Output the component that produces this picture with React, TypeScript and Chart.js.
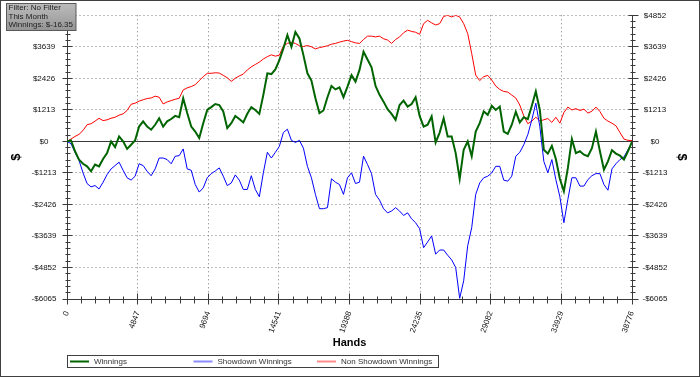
import React, { useEffect, useRef } from 'react';
import { Chart, registerables } from 'chart.js';

Chart.register(...registerables);

// ---- data -----------------------------------------------------------------
const TOTAL_HANDS = 38776;
const HAND_STEP = 275; // spacing of the sampled points (hands)
const X_TICK_STEP = 4847;
const Y_MIN = -6065;
const Y_MAX = 4852;
const Y_TICK_STEP = 1213;

const SERIES_LABELS = ['Winnings', 'Showdown Winnings', 'Non Showdown Winnings'];

const WINNINGS = [
  0, 40, -380, -700, -860, -960, -1150, -890, -960, -680,
  -450, 0, -220, 190, 0, -290, -130, 40, 570, 770,
  570, 450, 640, 890, 570, 770, 860, 980, 930, 1660,
  1090, 570, 380, 130, 700, 1210, 1320,
  1440, 1400, 1150, 510, 700, 980, 860, 730, 1060, 1320,
  1210, 1060, 1790, 2620, 2590, 2770, 3130, 3580, 4090, 3640,
  4210, 3960, 3320, 2620, 2340, 1660, 1090, 1190, 1700, 2130,
  2000, 2080, 1700, 2110, 2550,
  2300, 2750, 3450, 3150, 2850, 2130, 1790, 1530, 1240, 1060,
  830, 1400, 1570, 1340, 1440, 1700, 980, 570, 640, 960,
  -40, 340, 890, 190, 190, -450, -1440, -320, 0, -570,
  380, 700, 1150, 1020, 1370,
  1210, 1340, 380, 290, 640, 1140, 730, 930, 860, 1370,
  1920, 1210, -320, -470, -170, -680, -1440, -1920, -1020, 90,
  -450, -380, -510, -570, -260, 380, -380, -1090, -770, -340,
  -470, -550, -700, -380, -16,
];

const SHOWDOWN = [
  0, -90, -420, -730, -1210, -1620, -1750, -1700, -1830, -1570,
  -1280, -1060, -930, -800, -1110, -1400, -1490, -1340, -860, -930,
  -1150, -1320, -1060, -640, -640, -700, -860, -570, -550, -290,
  -1060, -1110, -1660, -1950, -1790, -1400, -1240,
  -1140, -1020, -1340, -1700, -1600, -1290, -1490, -1850, -1850, -1320,
  -1850, -2130, -1210, -420, -640, -420, -190, 340, 470, 40,
  -40, 40, -260, -960, -1400, -2040, -2590, -2590, -2550, -1440,
  -1570, -1660, -2040, -1400, -1210,
  -1620, -1570, -570, -890, -1240, -2040, -2260, -2590, -2750, -2680,
  -2550, -2680, -2850, -2750, -2980, -3130, -3360, -4090, -3870, -3640,
  -4340, -4180, -4180, -4380, -4560, -4850, -6040, -5360, -4020, -3320,
  -2040, -1600, -1400, -1340, -1210,
  -960, -960, -1490, -1530, -1340, -570, -420, -130, 260, 830,
  1470, 570, -770, -1210, -700, -1470, -2130, -3130, -2230, -1400,
  -1400, -1720, -1720, -1470, -1320, -1240, -1240, -1660, -1880, -1060,
  -860, -700, -600, -320, -50,
];

const NON_SHOWDOWN = [
  0, 90, 190, 270, 420, 640, 680, 780, 890, 800,
  830, 890, 930, 1010, 1060, 1190, 1430, 1470, 1550, 1600,
  1650, 1670, 1740, 1700, 1440, 1520, 1570, 1620, 1660, 1980,
  2060, 2110, 2180, 2340, 2490, 2620, 2620,
  2640, 2630, 2540, 2450, 2310, 2430, 2520, 2590, 2750, 2870,
  2960, 3050, 3170, 3260, 3330, 3280, 3320, 3670, 3770, 3810,
  3770, 3680, 3650, 3690, 3640, 3560, 3610, 3640, 3680, 3740,
  3770, 3820, 3860, 3890, 3840,
  3790, 3770, 3920, 4050, 4050, 4020, 4050, 3950, 3900, 3770,
  3920, 4020, 4180, 4280, 4230, 4200, 4120, 4530, 4660, 4560,
  4480, 4530, 4810, 4850, 4790, 4850, 4790, 4530, 4150, 3380,
  2550, 2340, 2490, 2540, 2360,
  2130, 2000, 1920, 1900, 1780, 1670, 1400, 980, 680, 780,
  930, 790, 830, 880, 730, 930, 700, 1110, 1320, 1210,
  1260, 1190, 1240, 1090, 1160, 1320, 1150, 890, 780, 700,
  600, 340, 90, 40, 34,
];

const INFO_LINES = ['Filter: No Filter', 'This Month', 'Winnings: $-16.35'];

// ---- styles ---------------------------------------------------------------
const FONT = '"Liberation Sans", Arial, sans-serif';
const LINE_COLORS = ['#006400', '#0000ff', '#ff0000'];
const LINE_WIDTHS = [2, 1, 1];
const LEGEND_COLORS = ['#006400', '#8c8cff', '#ff8c8c'];
const AXIS_COLOR = '#3a3a3a';
const GRID_COLOR = '#7a7a7a';

const hands = WINNINGS.map((_, i) => (i === WINNINGS.length - 1 ? TOTAL_HANDS : i * HAND_STEP));
const toPoints = (vals: number[]) => vals.map((v, i) => ({ x: hands[i], y: v }));

const fmtDollar = (v: number) => {
  const r = Math.round(v);
  return r < 0 ? `-$${-r}` : `$${r}`;
};

const snap = (v: number) => Math.floor(v) + 0.5;
const near = (a: number, b: number) => Math.abs(a - b) < 1e-6;

const decorPlugin = {
  id: 'decor',
  beforeDraw(chart: any) {
    const { ctx, width, height } = chart;
    ctx.save();
    ctx.fillStyle = '#ffffff';
    ctx.fillRect(0, 0, width, height);
    ctx.restore();
  },
  beforeDatasetsDraw(chart: any) {
    const { ctx, chartArea, scales } = chart;
    const xs = scales.x;
    const ys = scales.y;
    const L = snap(chartArea.left);
    const R = snap(chartArea.right);
    const B = snap(chartArea.bottom);
    const T = chartArea.top;
    ctx.save();
    ctx.lineWidth = 1;
    // dotted grid
    ctx.strokeStyle = GRID_COLOR;
    ctx.setLineDash([1, 3]);
    ctx.beginPath();
    ys.ticks.forEach((t: any) => {
      if (near(t.value, 0) || near(t.value, Y_MIN)) return;
      const py = snap(ys.getPixelForValue(t.value));
      ctx.moveTo(L, py);
      ctx.lineTo(R, py);
    });
    xs.ticks.forEach((t: any) => {
      if (near(t.value, 0) || near(t.value, TOTAL_HANDS)) return;
      const px = snap(xs.getPixelForValue(t.value));
      ctx.moveTo(px, T);
      ctx.lineTo(px, B);
    });
    ctx.stroke();
    ctx.setLineDash([]);
    // zero line + axes + tick marks
    ctx.strokeStyle = AXIS_COLOR;
    ctx.beginPath();
    const zy = snap(ys.getPixelForValue(0));
    ctx.moveTo(L, zy);
    ctx.lineTo(R, zy);
    ctx.moveTo(L, T);
    ctx.lineTo(L, B);
    ctx.moveTo(R, T);
    ctx.lineTo(R, B);
    ctx.moveTo(L, B);
    ctx.lineTo(R, B);
    const yv = ys.ticks.map((t: any) => t.value);
    for (let i = 0; i < yv.length; i++) {
      const py = snap(ys.getPixelForValue(yv[i]));
      ctx.moveTo(L - 5, py);
      ctx.lineTo(L + 5, py);
      ctx.moveTo(R - 4, py);
      ctx.lineTo(R + 6, py);
      if (i < yv.length - 1) {
        for (let k = 1; k < 5; k++) {
          const mp = snap(ys.getPixelForValue(yv[i] + ((yv[i + 1] - yv[i]) * k) / 5));
          ctx.moveTo(L - 2, mp);
          ctx.lineTo(L + 3, mp);
          ctx.moveTo(R - 2, mp);
          ctx.lineTo(R + 3, mp);
        }
      }
    }
    const xv = xs.ticks.map((t: any) => t.value);
    for (let i = 0; i < xv.length; i++) {
      const px = snap(xs.getPixelForValue(xv[i]));
      ctx.moveTo(px, B - 6);
      ctx.lineTo(px, B + 5);
      if (i < xv.length - 1) {
        for (let k = 1; k < 5; k++) {
          const mp = snap(xs.getPixelForValue(xv[i] + ((xv[i + 1] - xv[i]) * k) / 5));
          ctx.moveTo(mp, B - 3);
          ctx.lineTo(mp, B + 4);
        }
      }
    }
    ctx.stroke();
    ctx.restore();
  },
  afterDraw(chart: any) {
    const { ctx, width, height } = chart;
    ctx.save();
    // legend
    ctx.lineWidth = 1;
    ctx.strokeStyle = '#404040';
    ctx.strokeRect(67.5, 355.5, 371, 12);
    ctx.font = `8px ${FONT}`;
    ctx.textBaseline = 'middle';
    ctx.textAlign = 'left';
    chart.data.datasets.forEach((ds: any, i: number) => {
      const cx = 70 + i * 123.5;
      ctx.strokeStyle = LEGEND_COLORS[i];
      ctx.lineWidth = 2;
      ctx.beginPath();
      ctx.moveTo(cx, 361.5);
      ctx.lineTo(cx + 19, 361.5);
      ctx.stroke();
      ctx.fillStyle = '#333333';
      ctx.fillText(ds.label, cx + 24, 361.5);
    });
    // info box
    const g = ctx.createLinearGradient(0, 3.5, 0, 30.5);
    g.addColorStop(0, '#bcbcbc');
    g.addColorStop(1, '#959595');
    ctx.fillStyle = g;
    ctx.fillRect(7, 3.5, 69, 27);
    ctx.lineWidth = 1;
    ctx.strokeStyle = '#5a5a5a';
    ctx.strokeRect(6.5, 3.5, 69.5, 27);
    ctx.fillStyle = '#1e1e1e';
    ctx.font = `8px ${FONT}`;
    INFO_LINES.forEach((line, i) => ctx.fillText(line, 8.5, 7.5 + i * 8.8));
    // outer frame
    ctx.strokeStyle = '#404040';
    ctx.strokeRect(0.5, 0.5, width - 1, height - 1);
    ctx.restore();
  },
};

const yAxis = (position: 'left' | 'right', width: number, titlePad: number) => ({
  position,
  min: Y_MIN,
  max: Y_MAX,
  afterFit: (s: any) => {
    s.width = width;
  },
  grid: { display: false, drawTicks: false },
  border: { display: false },
  ticks: {
    stepSize: Y_TICK_STEP,
    autoSkip: false,
    crossAlign: 'center',
    padding: 10.5,
    color: '#111111',
    font: { family: FONT, size: 8 },
    callback: (v: any) => fmtDollar(Number(v)),
  },
  title: {
    display: true,
    text: '$',
    color: '#000000',
    font: { family: FONT, size: 13, weight: 'bold' },
    padding: { top: titlePad, bottom: 0 },
  },
});

export default function App() {
  const ref = useRef<HTMLCanvasElement>(null);
  useEffect(() => {
    if (!ref.current) return;
    const seriesValues = [WINNINGS, SHOWDOWN, NON_SHOWDOWN];
    const chart = new Chart(ref.current, {
      type: 'line',
      data: {
        datasets: seriesValues.map((vals, i) => ({
          label: SERIES_LABELS[i],
          data: toPoints(vals),
          borderColor: LINE_COLORS[i],
          backgroundColor: LINE_COLORS[i],
          borderWidth: LINE_WIDTHS[i],
          pointRadius: 0,
          tension: 0,
          fill: false,
          yAxisID: 'y',
        })),
      },
      options: {
        animation: false,
        responsive: false,
        maintainAspectRatio: false,
        layout: { padding: { top: 12.5, bottom: 0, left: 0, right: 0 } },
        plugins: {
          legend: { display: false },
          tooltip: { enabled: false },
        },
        scales: {
          x: {
            type: 'linear',
            min: 0,
            max: TOTAL_HANDS,
            afterFit: (s: any) => {
              s.height = 78;
            },
            grid: { display: false, drawTicks: false },
            border: { display: false },
            ticks: {
              stepSize: X_TICK_STEP,
              autoSkip: false,
              minRotation: 70,
              maxRotation: 70,
              padding: 11,
              color: '#111111',
              font: { family: FONT, size: 8 },
              callback: (v: any) => String(Math.round(Number(v))),
            },
            title: {
              display: true,
              text: 'Hands',
              color: '#000000',
              font: { family: FONT, size: 11, weight: 'bold' },
              padding: { top: 0, bottom: 27 },
            },
          },
          y: yAxis('left', 67, 9),
          y2: yAxis('right', 68, 11),
        },
      } as any,
      plugins: [decorPlugin],
    });
    return () => chart.destroy();
  }, []);
  return (
    <div style={{ position: 'absolute', left: 0, top: 0, width: 700, height: 377, background: '#ffffff' }}>
      <canvas ref={ref} width={700} height={377} style={{ display: 'block', width: 700, height: 377 }} />
    </div>
  );
}
